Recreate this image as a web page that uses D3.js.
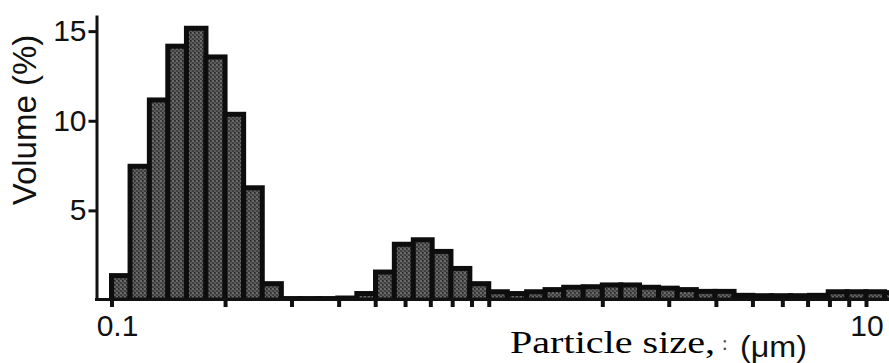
<!DOCTYPE html>
<html>
<head>
<meta charset="utf-8">
<script src="https://cdn.jsdelivr.net/npm/d3@7"></script>
<style>
  body { margin: 0; background: #fff; }
  svg { display: block; }
</style>
</head>
<body>
<svg width="889" height="363"></svg>
<script>
// bin edges (um), log spaced, 20 per decade
binEdges = [0.1, 0.112, 0.126, 0.141, 0.158, 0.178, 0.2, 0.224, 0.251, 0.282,
  0.316, 0.355, 0.398, 0.447, 0.501, 0.562, 0.631, 0.708, 0.794, 0.891,
  1.0, 1.12, 1.26, 1.41, 1.58, 1.78, 2.0, 2.24, 2.51, 2.82,
  3.16, 3.55, 3.98, 4.47, 5.01, 5.62, 6.31, 7.08, 7.94, 8.91,
  10, 11.2, 12.6]
// volume % per bin
volume = [1.5, 7.6, 11.3, 14.3, 15.3, 13.7, 10.5, 6.4, 1.05,
  0.22, 0.22, 0.22, 0.25, 0.5, 1.7, 3.25, 3.5, 2.85, 1.9, 1.05,
  0.6, 0.5, 0.6, 0.72, 0.85, 0.88, 0.98, 0.98, 0.85, 0.8,
  0.72, 0.62, 0.62, 0.4, 0.38, 0.38, 0.38, 0.4, 0.6, 0.6,
  0.6, 0.55]
xTicks = [0.1, 0.2, 0.3, 0.4, 0.5, 0.6, 0.7, 0.8, 0.9, 1, 2, 3, 4, 5, 6, 7, 8, 9, 10]
xLabels = [0.1, 10]
yTicks = [5, 10, 15]

var svg = d3.select("svg");
var sans = "'Liberation Sans', Arial, sans-serif";
var serif = "'Liberation Serif', 'Times New Roman', serif";

var x = d3.scaleLog().domain([0.1, 10]).range([111.5, 866]);
var y = d3.scaleLinear().domain([0, 15.9]).range([300, 15]);

// grainy fill like the scanned halftone
var defs = svg.append("defs");
var pat = defs.append("pattern").attr("id", "grain")
  .attr("patternUnits", "userSpaceOnUse").attr("width", 4).attr("height", 4);
pat.append("rect").attr("width", 4).attr("height", 4).attr("fill", "#404040");
pat.append("rect").attr("width", 2).attr("height", 2).attr("fill", "#6a6a6a");
pat.append("rect").attr("x", 2).attr("y", 2).attr("width", 2).attr("height", 2).attr("fill", "#5a5a5a");
pat.append("rect").attr("x", 2).attr("y", 0).attr("width", 1).attr("height", 1).attr("fill", "#222");

defs.append("clipPath").attr("id", "plot")
  .append("rect").attr("x", 97).attr("y", 0).attr("width", 792).attr("height", 300);

bins = volume.map(function (v, i) { return {lo: binEdges[i], hi: binEdges[i + 1], v: v}; });

var sw = 5;
svg.append("g").attr("clip-path", "url(#plot)")
  .selectAll("rect")
  .data(bins).enter()
  .append("rect")
  .attr("x", function (d) { return x(d.lo); })
  .attr("width", function (d) { return x(d.hi) - x(d.lo); })
  .attr("y", function (d) { return y(d.v) + sw / 2; })
  .attr("height", function (d) { return Math.max(0, y(0) - y(d.v) - sw / 2); })
  .attr("fill", "url(#grain)")
  .attr("stroke", "#0d0d0d")
  .attr("stroke-width", sw);

// x axis
var xAxis = d3.axisBottom(x).tickValues(xTicks).tickSize(8).tickFormat("");
var gx = svg.append("g").attr("transform", "translate(0,299)").call(xAxis);
gx.select(".domain").remove();
gx.selectAll(".tick line").attr("stroke", "#111").attr("stroke-width", 4);
svg.append("line").attr("x1", 95).attr("x2", 889).attr("y1", 299.5).attr("y2", 299.5)
  .attr("stroke", "#111").attr("stroke-width", 3);

svg.selectAll(".xlab")
  .data(xLabels).enter()
  .append("text").attr("class", "xlab")
  .attr("x", function (d) { return x(d) + (d < 1 ? 6 : 1); })
  .attr("y", 336)
  .attr("text-anchor", "middle")
  .attr("font-family", sans).attr("font-size", 30).attr("fill", "#111")
  .text(function (d) { return d; });

// y axis
var yAxis = d3.axisLeft(y).tickValues(yTicks).tickSize(8).tickPadding(2).tickSizeOuter(0);
var gy = svg.append("g").attr("transform", "translate(96.5,0)").call(yAxis);
gy.select(".domain").attr("stroke", "#111").attr("stroke-width", 3);
gy.selectAll(".tick line").attr("stroke", "#111").attr("stroke-width", 3);
gy.selectAll(".tick text").attr("font-family", sans).attr("font-size", 30).attr("fill", "#111");

// titles
svg.append("text")
  .attr("transform", "translate(36,120) rotate(-90)")
  .attr("text-anchor", "middle")
  .attr("font-family", sans).attr("font-size", 33).attr("fill", "#111")
  .text("Volume (%)");

svg.append("text").attr("x", 510).attr("y", 353)
  .attr("font-family", serif).attr("font-size", 31).attr("fill", "#000")
  .attr("textLength", 205).attr("lengthAdjust", "spacingAndGlyphs")
  .text("Particle  size,");
svg.append("text").attr("x", 722).attr("y", 350)
  .attr("font-family", serif).attr("font-size", 20).attr("fill", "#444")
  .text(":");
svg.append("text").attr("x", 740).attr("y", 357)
  .attr("font-family", sans).attr("font-size", 29).attr("fill", "#111")
  .attr("textLength", 67).attr("lengthAdjust", "spacingAndGlyphs")
  .text("(μm)");
</script>
</body>
</html>
